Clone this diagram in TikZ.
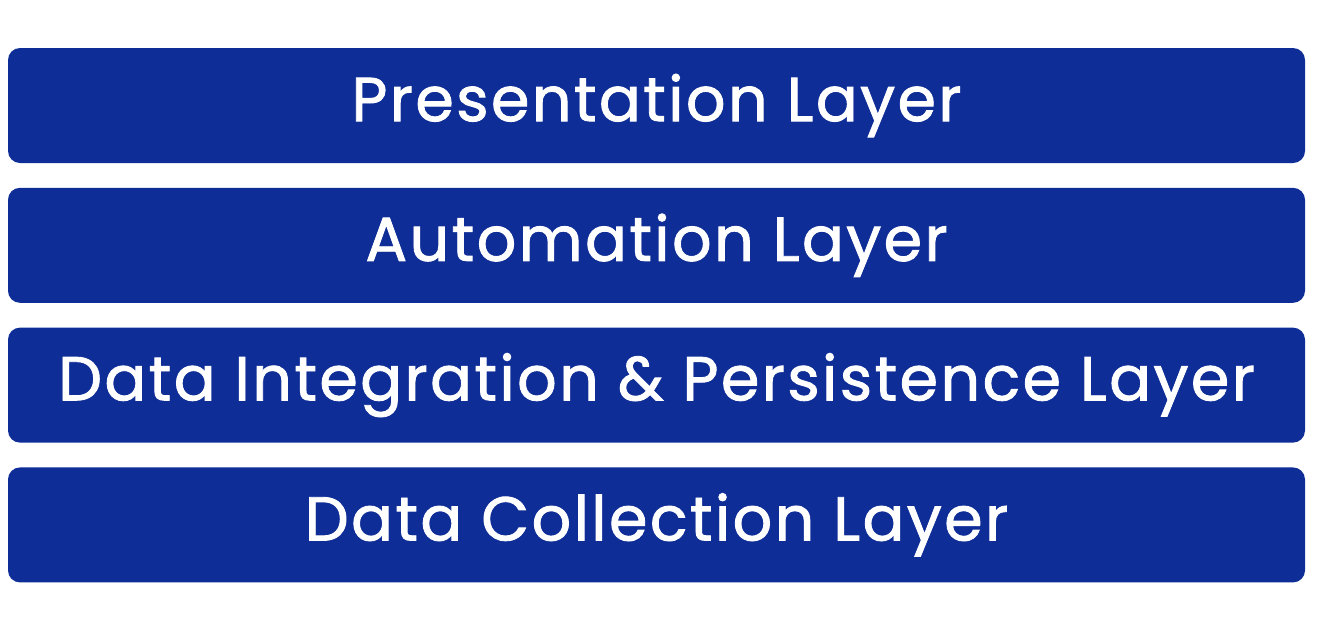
\documentclass[tikz,border=0pt]{standalone}
\usepackage{fontspec}
\setmainfont{Poppins}[LetterSpace=3.9, FakeBold=1.4]
\usepackage{tikz}
\usetikzlibrary{positioning}

\definecolor{layerblue}{HTML}{0E2D97}

\begin{document}
\begin{tikzpicture}[x=0.5pt, y=-0.5pt,
    layer/.style={fill=layerblue, rounded corners=6pt, minimum width=648.5pt,
        minimum height=57.5pt, inner sep=0pt, text=white,
        font=\fontsize{31}{36}\selectfont}]
    % Canvas
    \useasboundingbox (0,0) rectangle (1320,632);

    % Layers, top to bottom
    \node[layer] (present) at (656.5,105.5) {Presentation Layer};
    \node[layer, below=12pt of present] (auto) {Automation Layer};
    \node[layer, below=12pt of auto] (integ) {Data Integration \& Persistence Layer};
    \node[layer, below=12pt of integ] (collect) {Data Collection Layer};
\end{tikzpicture}
\end{document}
